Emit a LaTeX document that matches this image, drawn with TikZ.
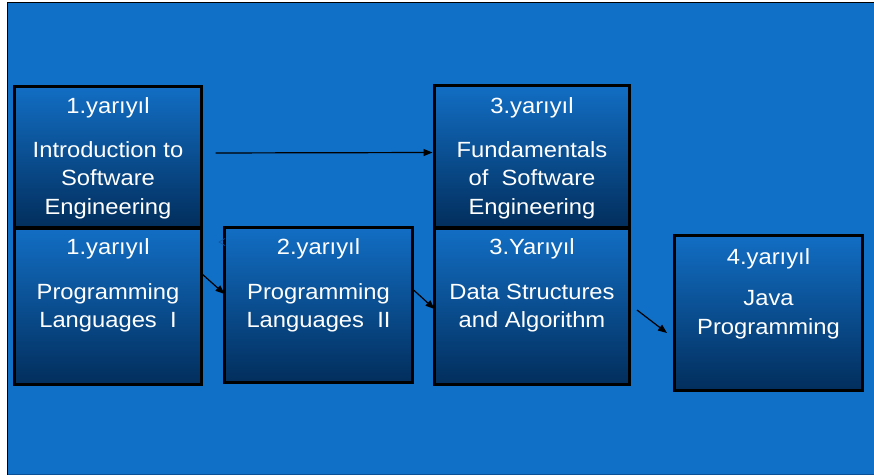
\documentclass[tikz,border=0pt]{standalone}
\usepackage{fontspec}
\setmainfont{Liberation Sans}[FakeStretch=1.08]
\usetikzlibrary{arrows.meta}
\definecolor{bgblue}{RGB}{16,111,198}
\definecolor{boxtop}{RGB}{18,110,196}
\definecolor{boxbot}{RGB}{2,46,92}
\definecolor{chev}{RGB}{30,80,150}
\definecolor{botline}{RGB}{10,80,150}
\begin{document}
\begin{tikzpicture}[x=1pt,y=-1pt,
  sembox/.style={draw=black, line width=3pt, top color=boxtop, bottom color=boxbot,
    inner sep=0pt, outer sep=0pt, rectangle},
  txt/.style={text=white, font=\fontsize{22}{28.5}\selectfont, align=center, inner sep=0pt},
  arr/.style={draw=black, line width=1.2pt, -{Triangle[length=9pt,width=7pt]}}]
\useasboundingbox (0,0) rectangle (874,475);
\fill[white] (0,0) rectangle (874,475);
\fill[bgblue] (7,2) rectangle (874,475);
\draw[black, line width=1.2pt] (7.5,2) -- (7.5,475);
\draw[black, line width=1.5pt] (7,2.5) -- (874,2.5);
\draw[botline, line width=0.8pt] (8,474.5) -- (874,474.5);
% boxes
\node[sembox, minimum width=187pt, minimum height=156pt] (B) at (108,306.5) {};
\node[sembox, minimum width=187pt, minimum height=141pt] (A) at (108,157) {};
\node[sembox, minimum width=188pt, minimum height=155pt] (C) at (318.5,305) {};
\node[sembox, minimum width=195pt, minimum height=156pt] (E) at (532,306.5) {};
\node[sembox, minimum width=195pt, minimum height=142pt] (D) at (532,156.5) {};
\node[sembox, minimum width=188pt, minimum height=155pt] (F) at (768.5,313) {};
% texts
\node[txt] (Ah) at (108,107.6) {1.yarıyıl};
\node[txt] (Ab) at (108,180.1) {Introduction to\\Software\\Engineering};
\node[txt] (Bh) at (108,249.3) {1.yarıyıl};
\node[txt] (Bb) at (108,308) {Programming\\Languages\ \ I};
\node[txt] (Ch) at (318.5,249.3) {2.yarıyıl};
\node[txt] (Cb) at (318.5,308) {Programming\\Languages\ \ II};
\node[txt] (Dh) at (532,107.6) {3.yarıyıl};
\node[txt] (Db) at (532,180.1) {Fundamentals\\of\ \ Software\\Engineering};
\node[txt] (Eh) at (532,249.3) {3.Yarıyıl};
\node[txt] (Eb) at (532,308) {Data Structures\\and Algorithm};
\node[txt] (Fh) at (768.5,259.3) {4.yarıyıl};
\node[txt] (Fb) at (768.5,314.8) {Java\\Programming};
% connectors
\draw[arr, shorten <=14pt, shorten >=2pt] ([yshift=4pt]A.east) -- ([yshift=4pt]D.west);
\draw[arr] ([yshift=33pt]B.east) -- ([yshift=11pt]C.west);
\draw[arr] ([yshift=16pt]C.east) -- ([yshift=-2.5pt]E.west);
\coordinate (j1) at (637,310);
\coordinate (j2) at (667,333);
\draw[arr] (j1) -- (j2);
% stray chevron
\draw[chev, line width=0.6pt] (225,238.5) -- (219,242) -- (225,245.5);
\end{tikzpicture}
\end{document}
